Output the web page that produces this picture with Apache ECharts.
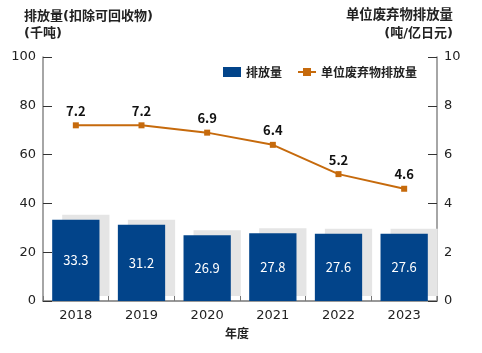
<!DOCTYPE html>
<html><head><meta charset="utf-8">
<script src="https://cdn.jsdelivr.net/npm/echarts@6/dist/echarts.min.js"></script>
<style>html,body{margin:0;padding:0;background:#fff}#c{width:482px;height:353px}</style>
</head><body><div id="c"></div>
<script>
const categories = ['2018','2019','2020','2021','2022','2023'];
const emissions = [33.3, 31.2, 26.9, 27.8, 27.6, 27.6];
const unitEmissions = [7.2, 7.2, 6.9, 6.4, 5.2, 4.6];
const leftTicks = [0, 20, 40, 60, 80, 100];
const rightTicks = [0, 2, 4, 6, 8, 10];

const FONT = '"Noto Sans CJK SC", "Noto Sans", sans-serif';
const TFONT = '"DejaVu Sans", "Noto Sans CJK SC", sans-serif';
const AFONT = '"DejaVu Sans", sans-serif';
const chart = echarts.init(document.getElementById('c'), null, {renderer: 'canvas'});
chart.setOption({
  animation: false,
  textStyle: {fontFamily: FONT},
  grid: {left: 43, right: 45, top: 57, bottom: 52, containLabel: false},
  graphic: [
    {type: 'text', left: 24, top: 10, style: {text: '排放量(扣除可回收物)', font: 'bold 13px ' + TFONT, fill: '#222'}},
    {type: 'text', left: 24, top: 27, style: {text: '(千吨)', font: 'bold 13px ' + TFONT, fill: '#222'}},
    {type: 'text', right: 29, top: 9, style: {text: '单位废弃物排放量', font: 'bold 13.4px ' + TFONT, fill: '#222'}},
    {type: 'text', right: 29, top: 27, style: {text: '(吨/亿日元)', font: 'bold 13px ' + TFONT, fill: '#222'}},
    {type: 'text', left: 225, top: 327, style: {text: '年度', font: 'bold 12px ' + FONT, fill: '#222'}}
  ],
  legend: {
    top: 61, left: 218, itemGap: 15, itemWidth: 18, itemHeight: 10,
    textStyle: {fontFamily: FONT, fontSize: 12, fontWeight: 'bold', color: '#222'},
    data: [{name: '排放量', icon: 'rect'}, {name: '单位废弃物排放量'}]
  },
  xAxis: {
    type: 'category', data: categories,
    axisLine: {lineStyle: {color: '#777', width: 1.5}},
    axisTick: {show: true, inside: true, length: 5, lineStyle: {color: '#777'}},
    axisLabel: {fontFamily: AFONT, fontSize: 13, color: '#222', margin: 8}
  },
  yAxis: [
    {type: 'value', min: 0, max: 100, interval: 20,
     axisLine: {show: true, lineStyle: {color: '#888', width: 1.5}},
     axisTick: {show: true, inside: true, length: 9, lineStyle: {color: '#333'}},
     splitLine: {show: false},
     axisLabel: {fontFamily: AFONT, fontSize: 13, color: '#222', margin: 7}},
    {type: 'value', min: 0, max: 10, interval: 2,
     axisLine: {show: true, lineStyle: {color: '#888', width: 1.5}},
     axisTick: {show: true, inside: true, length: 9, lineStyle: {color: '#333'}},
     splitLine: {show: false},
     axisLabel: {fontFamily: AFONT, fontSize: 13, color: '#222', margin: 7}}
  ],
  series: [
    {name: '排放量', type: 'bar', yAxisIndex: 0, data: emissions, barWidth: '72%',
     itemStyle: {color: '#02448a', shadowColor: '#e5e5e5', shadowOffsetX: 10, shadowOffsetY: -5, shadowBlur: 0},
     label: {show: true, position: 'inside', color: '#fff', fontSize: 13, fontFamily: FONT}},
    {name: '单位废弃物排放量', type: 'line', yAxisIndex: 1, data: unitEmissions,
     symbol: 'rect', symbolSize: 6, lineStyle: {color: '#c66a0c', width: 2},
     itemStyle: {color: '#c66a0c'},
     label: {show: true, position: 'top', distance: 5, color: '#111', fontSize: 13, fontWeight: 'bold', fontFamily: FONT}}
  ]
});
</script></body></html>
